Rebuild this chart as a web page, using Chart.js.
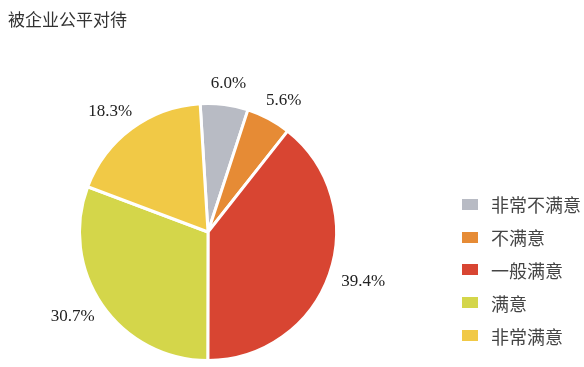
<!DOCTYPE html>
<html>
<head>
<meta charset="utf-8">
<script src="https://cdn.jsdelivr.net/npm/chart.js@4"></script>
<style>
    body { margin: 0; background: #fff; }
    #wrap { position: relative; width: 584px; height: 367px; }
    #title {
        position: absolute; left: 8px; top: 6px;
        font: 17px "Noto Sans CJK SC", sans-serif; color: #333;
    }
    #legend { position: absolute; left: 462px; top: 188px; }
    .item { display: flex; align-items: center; height: 32.8px; }
    .box { width: 16px; height: 11px; margin-right: 13px; }
    .txt { font: 18px "Noto Sans CJK SC", sans-serif; color: #444; }
</style>
</head>
<body>
<div id="wrap">
    <canvas id="pie" width="584" height="367"></canvas>
    <div id="title">被企业公平对待</div>
    <div id="legend"></div>
</div>
<script>
const categories = ["非常不满意", "不满意", "一般满意", "满意", "非常满意"];
const shares = [6.0, 5.6, 39.4, 30.7, 18.3];
const colours = ["#b8bbc4", "#e68b35", "#d84532", "#d4d64a", "#f1c946"];

// legend built from the same arrays
const legend = document.getElementById("legend");
categories.forEach(function (name, i) {
    const row = document.createElement("div");
    row.className = "item";
    row.innerHTML = '<span class="box" style="background:' + colours[i] + '"></span><span class="txt">' + name + '</span>';
    legend.appendChild(row);
});

// percentage labels outside each slice
const outsideLabels = {
    id: "outsideLabels",
    afterDatasetsDraw(chart) {
        const ctx = chart.ctx;
        const meta = chart.getDatasetMeta(0);
        ctx.save();
        ctx.font = '17px "Liberation Serif", serif';
        ctx.fillStyle = "#222";
        ctx.textAlign = "center";
        ctx.textBaseline = "middle";
        meta.data.forEach(function (arc, i) {
            const p = arc.getProps(["x", "y", "startAngle", "endAngle", "outerRadius"], true);
            const mid = (p.startAngle + p.endAngle) / 2;
            const text = shares[i].toFixed(1) + "%";
            const w = ctx.measureText(text).width;
            const d = p.outerRadius + 14;
            const cx = p.x + Math.cos(mid) * d + Math.cos(mid) * w / 2;
            const cy = p.y + Math.sin(mid) * d + Math.sin(mid) * 7;
            ctx.fillText(text, cx, cy);
        });
        ctx.restore();
    }
};

new Chart(document.getElementById("pie"), {
    type: "pie",
    data: {
        labels: categories,
        datasets: [{
            data: shares,
            backgroundColor: colours,
            borderColor: "#fff",
            borderWidth: 3
        }]
    },
    options: {
        responsive: false,
        animation: false,
        rotation: -3.5,
        layout: { padding: { left: 78, right: 246, top: 102, bottom: 5 } },
        plugins: {
            legend: { display: false },
            tooltip: { enabled: false }
        }
    },
    plugins: [outsideLabels]
});
</script>
</body>
</html>
